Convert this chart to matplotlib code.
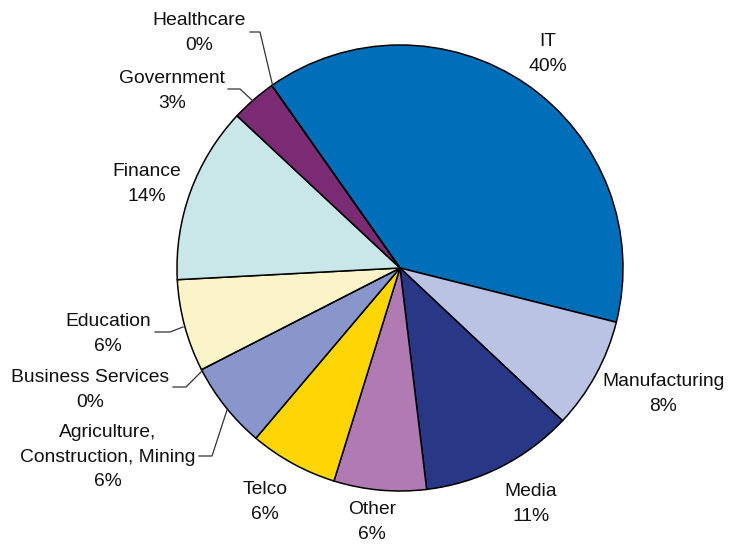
import matplotlib
matplotlib.use("Agg")
import matplotlib.pyplot as plt

# ---- data (clockwise from the Healthcare/IT boundary) ----
sectors = ["IT", "Manufacturing", "Media", "Other", "Telco",
           "Agriculture,\nConstruction, Mining", "Business Services",
           "Education", "Finance", "Government", "Healthcare"]
shares = [38.7, 8.1, 11.1, 6.7, 6.4, 6.3, 0.0, 6.7, 12.8, 3.3, 0.0]
pct_labels = [40, 8, 11, 6, 6, 6, 0, 6, 14, 3, 0]
colors = ["#006EB8", "#BAC3E3", "#283887", "#B07AB3", "#FFD605",
          "#8896CB", "#8896CB", "#FAF4C8", "#C9E7E8", "#7B2A74", "#7B2A74"]

# ---- layout (pixel coordinates of the 731x544 canvas) ----
W, H = 731, 544
center_px = (400, 268)
radius_px = 223
start_deg = 125.1
label_pos_px = [(548, 54), (663, 394), (531, 504), (372, 522), (265, 502),
                (108, 457), (90, 390), (108, 334), (147, 184), (172, 91),
                (199, 33)]
leaders_px = {
    "Healthcare": [(273, 87), (260, 32), (250, 32)],
    "Government": [(253, 101), (240, 89), (228, 89)],
    "Education": [(183, 327), (170, 332), (155, 332)],
    "Business Services": [(203, 370), (186, 387), (173, 387)],
    "Agriculture,\nConstruction, Mining": [(227, 410), (212, 456), (199, 456)],
}


def px(x, y):
    return x, H - y


fig = plt.figure(figsize=(W / 100, H / 100), dpi=100)
ax = fig.add_axes([0, 0, 1, 1])
ax.set_xlim(0, W)
ax.set_ylim(0, H)
ax.set_aspect("equal")
ax.axis("off")

ax.pie(shares, colors=colors, startangle=start_deg, counterclock=False,
       center=px(*center_px), radius=radius_px,
       wedgeprops=dict(edgecolor="black", linewidth=1.1))
ax.set_xlim(0, W)
ax.set_ylim(0, H)

font = dict(family=["Liberation Sans", "DejaVu Sans"], fontsize=13.9,
            color="#111111")
for name, pct, pos in zip(sectors, pct_labels, label_pos_px):
    ax.text(*px(*pos), f"{name}\n{pct}%", ha="center", va="center",
            linespacing=1.55, **font)

for name, pts in leaders_px.items():
    xs, ys = zip(*[px(x, y) for x, y in pts])
    ax.plot(xs, ys, color="#333333", linewidth=0.9)

fig.savefig("out.png", dpi=100)
